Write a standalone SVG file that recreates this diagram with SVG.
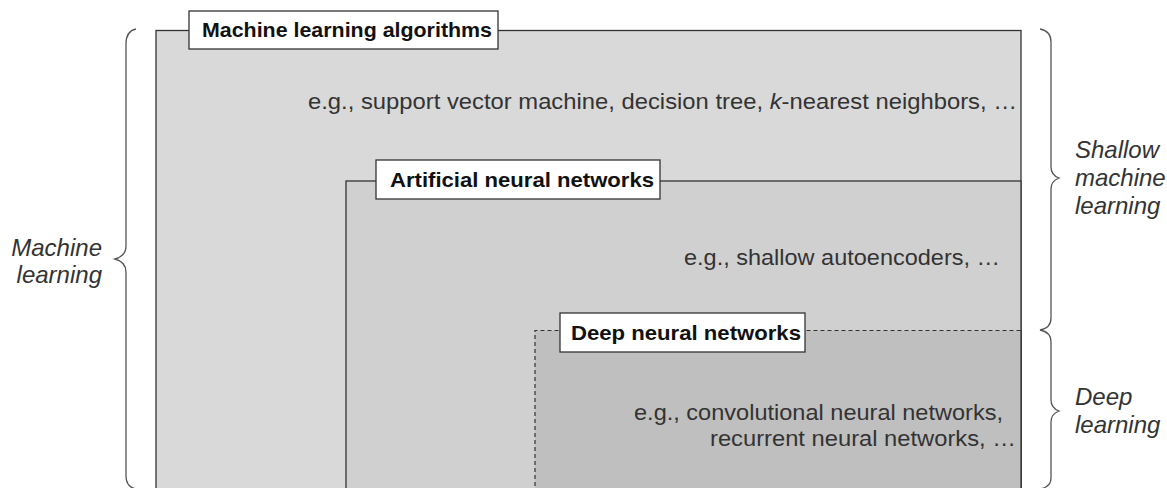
<svg xmlns="http://www.w3.org/2000/svg" width="1167" height="488" viewBox="0 0 1167 488">
<style>
.lbl{font-family:"Liberation Sans",Arial,sans-serif;font-weight:bold;font-size:20.5px;fill:#111}
.eg{font-family:"Liberation Sans",Arial,sans-serif;font-size:22.5px;fill:#333}
.side{font-family:"Liberation Sans",Arial,sans-serif;font-style:italic;font-size:24px;fill:#333}
.lbox{fill:#fff;stroke:#333;stroke-width:1.3}
.brace{fill:none;stroke:#555;stroke-width:1.3}
</style>
<rect width="1167" height="488" fill="#fff"/>
<g id="ml">
<rect x="156" y="30.5" width="865" height="470" fill="#d9d9d9" stroke="#333" stroke-width="1.3"/>
<rect class="lbox" x="189" y="11" width="309" height="38"/>
<text class="lbl" x="202" y="37" textLength="290" lengthAdjust="spacingAndGlyphs">Machine learning algorithms</text>
<text class="eg" x="308" y="109" textLength="709" lengthAdjust="spacingAndGlyphs">e.g., support vector machine, decision tree, <tspan font-style="italic">k</tspan>-nearest neighbors, …</text>
</g>
<g id="ann">
<rect x="346" y="181" width="675" height="320" fill="#d1d0d1" stroke="#333" stroke-width="1.3"/>
<rect class="lbox" x="376" y="160" width="284" height="39"/>
<text class="lbl" x="390" y="187" textLength="264" lengthAdjust="spacingAndGlyphs">Artificial neural networks</text>
<text class="eg" x="684" y="265" textLength="316" lengthAdjust="spacingAndGlyphs">e.g., shallow autoencoders, …</text>
</g>
<g id="dnn">
<rect x="535" y="330.5" width="486" height="170" fill="#bfbfbf"/>
<path d="M535 500 V330.5 H1021" fill="none" stroke="#333" stroke-width="1.2" stroke-dasharray="4,3"/>
<line x1="1021" y1="330" x2="1021" y2="488" stroke="#333" stroke-width="1.3"/>
<rect class="lbox" x="560" y="313" width="245" height="39"/>
<text class="lbl" x="571" y="340" textLength="230" lengthAdjust="spacingAndGlyphs">Deep neural networks</text>
<text class="eg" x="634" y="420" textLength="369" lengthAdjust="spacingAndGlyphs">e.g., convolutional neural networks,</text>
<text class="eg" x="710" y="446" textLength="306" lengthAdjust="spacingAndGlyphs">recurrent neural networks, …</text>
</g>
<g id="braces">
<path class="brace" d="M136 29 Q126 31 126 44 V246 Q126 256 115 259 Q126 262 126 272 V476 Q126 487 136 489"/>
<path class="brace" d="M1040 29 Q1051 31 1051 42 V167 Q1051 175 1059 178 Q1051 181 1051 189 V318 Q1051 328 1040 330 Q1051 332 1051 342 V400 Q1051 408 1059 411 Q1051 414 1051 422 V478 Q1051 487 1040 489"/>
</g>
<g id="labels">
<text class="side" x="102" y="256" text-anchor="end">Machine</text>
<text class="side" x="102" y="283" text-anchor="end">learning</text>
<text class="side" x="1075" y="158">Shallow</text>
<text class="side" x="1075" y="186">machine</text>
<text class="side" x="1075" y="214">learning</text>
<text class="side" x="1075" y="405">Deep</text>
<text class="side" x="1075" y="433">learning</text>
</g>
</svg>
